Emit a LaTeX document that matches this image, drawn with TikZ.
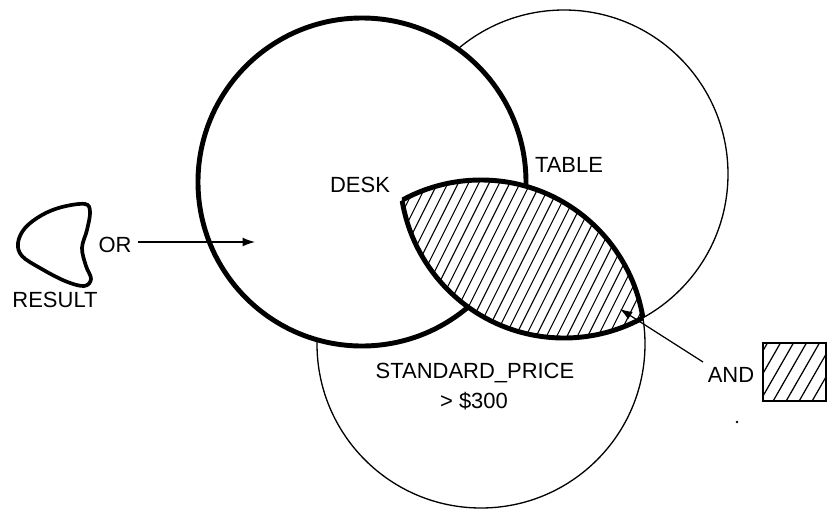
\documentclass[tikz,border=0pt]{standalone}
\usepackage{fontspec}
\setmainfont{Liberation Sans}
\usetikzlibrary{arrows.meta}
\begin{document}
\begin{tikzpicture}[x=0.02cm,y=-0.02cm,
  boldline/.style={line width=2.8pt},
  thinline/.style={line width=0.75pt},
  hatchline/.style={line width=0.6pt},
  lbl/.style={inner sep=0pt, anchor=base, font=\fontsize{12.5}{15}\selectfont},
  arr/.style={line width=0.7pt, -{Latex[length=7pt,width=5pt]}}]
\useasboundingbox (0,0) rectangle (829,511);
% centres
\coordinate (deskc) at (362,182);
\coordinate (tablec) at (564,174);
\coordinate (spc) at (481,344);
% thin circles
\draw[thinline] (spc) circle (164);
\draw[thinline] (tablec) circle (164);
% DESK circle, white filled, thick
\filldraw[boldline, fill=white] (deskc) circle (164);
% lens = TABLE and STANDARD_PRICE
\begin{scope}
  \clip (tablec) circle (164);
  \clip (spc) circle (164);
  \fill[white] (spc) circle (164);
  \foreach \s in {200,210.3,...,680} \draw[hatchline] (\s,370) -- ++(100,-200);
\end{scope}
\begin{scope}
  \clip (tablec) circle (164);
  \draw[boldline] (spc) circle (164);
\end{scope}
\begin{scope}
  \clip (spc) circle (164);
  \draw[boldline] (tablec) circle (164);
\end{scope}
% labels
\node[lbl] (desk) at (360,192) {DESK};
\node[lbl] (table) at (569,172) {TABLE};
\node[lbl] (sp) at (475,378) {STANDARD\_PRICE};
\node[lbl] (price) at (474,408) {> \$300};
\node[lbl] (orlbl) at (115,252) {OR};
\node[lbl] (result) at (55,307) {RESULT};
\node[lbl] (andlbl) at (731,382) {AND};
% RESULT blob
\draw[line width=2.1pt] plot[smooth cycle, tension=0.6] coordinates {
  (85,204) (90,212) (87,230) (82,248) (86,266) (91,279) (84,286)
  (65,281) (40,268) (22,256) (18,243) (25,228) (42,215) (62,207)};
% arrows
\coordinate (orstart) at (138,242);
\coordinate (ortip) at (255,242);
\draw[arr] (orstart) -- (ortip);
\coordinate (andstart) at (703,362);
\coordinate (andtip) at (620,309);
\draw[arr] (andstart) -- (andtip);
% AND hatched box
\begin{scope}
  \clip (763,343) rectangle (826,401);
  \foreach \s in {716,729,...,840} \draw[line width=0.7pt] (\s,410) -- ++(43,-75);
\end{scope}
\node[draw, line width=0.9pt, minimum width=63*0.02cm, minimum height=58*0.02cm, inner sep=0pt] (andbox) at (794.5,372) {};
% speck
\fill (737,422) circle (1.3);
\end{tikzpicture}
\end{document}
